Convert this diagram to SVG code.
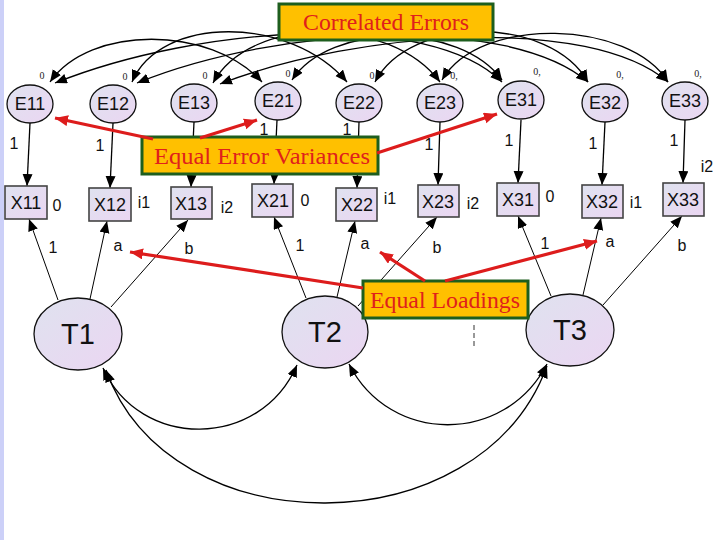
<svg xmlns="http://www.w3.org/2000/svg" width="720" height="540" viewBox="0 0 720 540">
<defs>
<linearGradient id="nodeFill" x1="0" y1="0" x2="1" y2="1">
<stop offset="0" stop-color="#DFE2EF"/>
<stop offset="1" stop-color="#EBD6F2"/>
</linearGradient>
<marker id="ah" markerUnits="userSpaceOnUse" markerWidth="13" markerHeight="11" refX="12" refY="5" orient="auto-start-reverse">
<path d="M0,0 L12,5 L0,10 z" fill="#000"/>
</marker>
<marker id="ahr" markerUnits="userSpaceOnUse" markerWidth="14" markerHeight="12" refX="13" refY="5.5" orient="auto">
<path d="M0,0 L13,5.5 L0,11 z" fill="#DD1C1C"/>
</marker>
<style>
.ell{fill:url(#nodeFill);stroke:#111;stroke-width:1.3}
.box{fill:url(#nodeFill);stroke:#444;stroke-width:1.6}
.nl{font-family:"Liberation Sans",Arial,sans-serif;font-size:18px;fill:#111;text-anchor:middle}
.tl{font-family:"Liberation Sans",Arial,sans-serif;font-size:29px;fill:#111;text-anchor:middle}
.lb{font-family:"Liberation Sans",Arial,sans-serif;font-size:16px;fill:#111;text-anchor:middle}
.sm{font-family:"Liberation Serif","Times New Roman",serif;font-size:10px;fill:#222;text-anchor:middle}
.c{fill:none;stroke:#000;stroke-width:1.3;marker-end:url(#ah)}
.cc{fill:none;stroke:#000;stroke-width:1.3;marker-start:url(#ah);marker-end:url(#ah)}
.t{fill:none;stroke:#000;stroke-width:1;marker-end:url(#ah)}
.red{fill:none;stroke:#DD1C1C;stroke-width:3.2;marker-end:url(#ahr)}
.note{fill:#FFC000;stroke:#1E5E1E;stroke-width:3}
.nt{font-family:"Liberation Serif","Times New Roman",serif;font-size:23px;fill:#E0201C;text-anchor:middle}
</style>
</defs>
<rect x="0" y="0" width="720" height="540" fill="#fff"/>
<rect x="0" y="0" width="4" height="540" fill="#CCD0F8"/>

<g id="connectors">
<path class="cc" d="M50,82 C90,25 210,25 262,82"/>
<path class="cc" d="M292,80 C330,22 460,22 502,80"/>
<path class="cc" d="M55,83 C200,25 430,10 502,82"/>
<path class="cc" d="M132,82 C160,15 290,15 347,82"/>
<path class="cc" d="M375,82 C410,15 550,15 588,82"/>
<path class="cc" d="M137,83 C280,25 510,15 588,82"/>
<path class="cc" d="M213,83 C250,15 390,15 440,82"/>
<path class="cc" d="M442,80 C480,15 630,20 668,82"/>
<path class="cc" d="M220,84 C360,30 590,15 668,82"/>
<line class="c" x1="30" y1="123" x2="27" y2="186"/>
<line class="c" x1="113" y1="123" x2="110" y2="188"/>
<line class="c" x1="194" y1="122" x2="191" y2="187"/>
<line class="c" x1="277" y1="120" x2="274" y2="184"/>
<line class="c" x1="359" y1="122" x2="357" y2="188"/>
<line class="c" x1="440" y1="122" x2="438" y2="185"/>
<line class="c" x1="521" y1="120" x2="518" y2="183"/>
<line class="c" x1="605" y1="122" x2="602" y2="185"/>
<line class="c" x1="685" y1="120" x2="683" y2="183"/>
<line class="t" x1="58" y1="300" x2="29" y2="219"/>
<line class="t" x1="90" y1="299" x2="107" y2="221"/>
<line class="t" x1="111" y1="307" x2="188" y2="220"/>
<line class="t" x1="306" y1="298" x2="274" y2="217"/>
<line class="t" x1="337" y1="297" x2="355" y2="221"/>
<line class="t" x1="358" y1="306" x2="437" y2="217"/>
<line class="t" x1="551" y1="296" x2="518" y2="216"/>
<line class="t" x1="583" y1="295" x2="601" y2="218"/>
<line class="t" x1="603" y1="305" x2="682" y2="216"/>
<path class="cc" d="M103,368 C140,450 260,450 297,365"/>
<path class="cc" d="M349,364 C390,445 505,445 547,364"/>
<path class="cc" d="M106,370 C170,548 480,548 547,366"/>
</g>

<g id="E11"><ellipse class="ell" cx="30" cy="104" rx="23" ry="19"/><text class="nl" x="30" y="110">E11</text></g>
<g id="E12"><ellipse class="ell" cx="113" cy="104" rx="23" ry="19"/><text class="nl" x="113" y="110">E12</text></g>
<g id="E13"><ellipse class="ell" cx="194" cy="103" rx="23" ry="19"/><text class="nl" x="194" y="109">E13</text></g>
<g id="E21"><ellipse class="ell" cx="278" cy="101" rx="23" ry="19"/><text class="nl" x="278" y="107">E21</text></g>
<g id="E22"><ellipse class="ell" cx="359" cy="103" rx="23" ry="19"/><text class="nl" x="359" y="109">E22</text></g>
<g id="E23"><ellipse class="ell" cx="440" cy="103" rx="23" ry="19"/><text class="nl" x="440" y="109">E23</text></g>
<g id="E31"><ellipse class="ell" cx="521" cy="100" rx="23" ry="19"/><text class="nl" x="521" y="106">E31</text></g>
<g id="E32"><ellipse class="ell" cx="605" cy="103" rx="23" ry="19"/><text class="nl" x="605" y="109">E32</text></g>
<g id="E33"><ellipse class="ell" cx="685" cy="101" rx="23" ry="19"/><text class="nl" x="685" y="107">E33</text></g>

<g id="X11"><rect class="box" x="5" y="186" width="42" height="33"/><text class="nl" x="26" y="209">X11</text></g>
<g id="X12"><rect class="box" x="89" y="188" width="42" height="33"/><text class="nl" x="110" y="211">X12</text></g>
<g id="X13"><rect class="box" x="171" y="187" width="41" height="32"/><text class="nl" x="191" y="210">X13</text></g>
<g id="X21"><rect class="box" x="252" y="184" width="41" height="33"/><text class="nl" x="273" y="207">X21</text></g>
<g id="X22"><rect class="box" x="336" y="188" width="41" height="33"/><text class="nl" x="357" y="211">X22</text></g>
<g id="X23"><rect class="box" x="418" y="185" width="41" height="32"/><text class="nl" x="438" y="208">X23</text></g>
<g id="X31"><rect class="box" x="497" y="183" width="42" height="33"/><text class="nl" x="518" y="206">X31</text></g>
<g id="X32"><rect class="box" x="582" y="185" width="41" height="33"/><text class="nl" x="602" y="208">X32</text></g>
<g id="X33"><rect class="box" x="663" y="183" width="41" height="33"/><text class="nl" x="683" y="206">X33</text></g>

<g id="T1"><ellipse class="ell" cx="78" cy="334" rx="44" ry="36"/><text class="tl" x="78" y="344">T1</text></g>
<g id="T2"><ellipse class="ell" cx="325" cy="332" rx="43" ry="36"/><text class="tl" x="325" y="342">T2</text></g>
<g id="T3"><ellipse class="ell" cx="570" cy="330" rx="44" ry="36"/><text class="tl" x="570" y="340">T3</text></g>

<g id="labels">
<text class="sm" x="42" y="79">0</text>
<text class="sm" x="125" y="80">0</text>
<text class="sm" x="205" y="79">0</text>
<text class="sm" x="288" y="77">0</text>
<text class="sm" x="372" y="79">0</text>
<text class="sm" x="454" y="79">0,</text>
<text class="sm" x="537" y="75">0,</text>
<text class="sm" x="620" y="78">0,</text>
<text class="sm" x="698" y="77">0,</text>

<text class="lb" x="14" y="149">1</text>
<text class="lb" x="100" y="151">1</text>
<text class="lb" x="264" y="135">1</text>
<text class="lb" x="347" y="135">1</text>
<text class="lb" x="429" y="150">1</text>
<text class="lb" x="509" y="146">1</text>
<text class="lb" x="593" y="149">1</text>
<text class="lb" x="674" y="146">1</text>

<text class="lb" x="57" y="211">0</text>
<text class="lb" x="144" y="208">i1</text>
<text class="lb" x="227" y="213">i2</text>
<text class="lb" x="305" y="206">0</text>
<text class="lb" x="390" y="204">i1</text>
<text class="lb" x="473" y="209">i2</text>
<text class="lb" x="550" y="202">0</text>
<text class="lb" x="636" y="208">i1</text>
<text class="lb" x="707" y="172">i2</text>

<text class="lb" x="53" y="253">1</text>
<text class="lb" x="118" y="251">a</text>
<text class="lb" x="189" y="254">b</text>
<text class="lb" x="300" y="251">1</text>
<text class="lb" x="365" y="249">a</text>
<text class="lb" x="437" y="253">b</text>
<text class="lb" x="545" y="249">1</text>
<text class="lb" x="610" y="247">a</text>
<text class="lb" x="682" y="251">b</text>

<line x1="474" y1="325" x2="474" y2="347" stroke="#333" stroke-width="1" stroke-dasharray="5,3"/>
</g>

<g id="CorrelatedErrors">
<rect class="note" x="279" y="4" width="214" height="36"/>
<text class="nt" x="386" y="30" textLength="166" lengthAdjust="spacingAndGlyphs">Correlated Errors</text>
</g>
<g id="EqualErrorVariances">
<rect class="note" x="142" y="137" width="236" height="37"/>
<text class="nt" x="262" y="164" textLength="216" lengthAdjust="spacingAndGlyphs">Equal Error Variances</text>
</g>
<g id="EqualLoadings">
<rect class="note" x="363" y="281" width="165" height="37"/>
<text class="nt" x="445" y="308" textLength="150" lengthAdjust="spacingAndGlyphs">Equal Loadings</text>
</g>
<g id="annotationArrows">
<line class="red" x1="153" y1="139" x2="55" y2="118"/>
<line class="red" x1="200" y1="138" x2="257" y2="120"/>
<line class="red" x1="377" y1="153" x2="497" y2="114"/>
<line class="red" x1="363" y1="288" x2="130" y2="252"/>
<line class="red" x1="425" y1="281" x2="380" y2="252"/>
<line class="red" x1="445" y1="281" x2="597" y2="241"/>
</g>
</svg>
